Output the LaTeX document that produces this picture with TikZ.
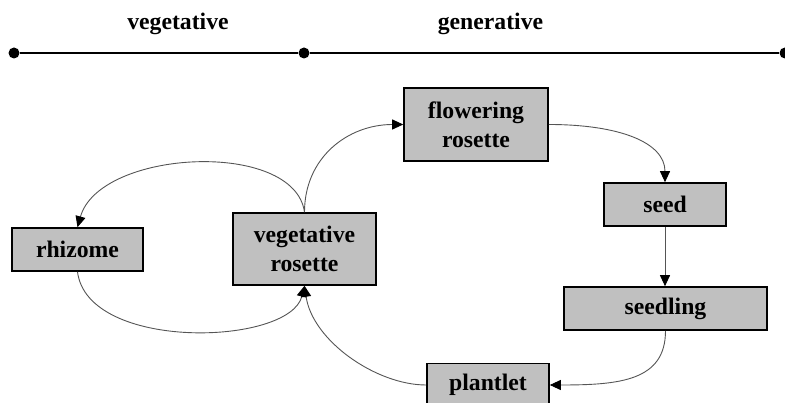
\documentclass[tikz,border=0pt]{standalone}
\usepackage{fontspec}
\setmainfont{Liberation Serif}
\usetikzlibrary{arrows.meta}
\definecolor{boxgray}{HTML}{C0C0C0}
\definecolor{linkgray}{HTML}{555555}
\begin{document}
\begin{tikzpicture}[x=1pt,y=-1pt,
  stage/.style={draw=black, line width=1.6pt, fill=boxgray, align=center,
    inner sep=0pt, font=\fontsize{23.7}{29}\selectfont\bfseries},
  phase/.style={anchor=base, font=\fontsize{23.7}{29}\selectfont\bfseries},
  link/.style={draw=linkgray, line width=0.9pt,
    -{Triangle[length=11pt,width=10pt,color=black]}},
  tick/.style={circle, fill=black, inner sep=0pt, minimum size=11pt}
]
\clip (0,0) rectangle (785,403);
\useasboundingbox (0,0) rectangle (785,403);

% time line with the two phases
\node[tick] (t0) at (14,53) {};
\node[tick] (t1) at (304,53) {};
\node[tick] (t2) at (785,53) {};
\draw[line width=1.2pt] (t0) -- (t1) -- (t2);
\node[phase] (veg) at (178,30) {vegetative};
\node[phase] (gen) at (490.5,30) {generative};

% life cycle stages
\node[stage, minimum width=144pt, minimum height=73pt] (fr) at (476,124.5) {flowering\\rosette};
\node[stage, minimum width=122pt, minimum height=43pt] (sd) at (665,204.5) {seed};
\node[stage, minimum width=203pt, minimum height=43pt] (sl) at (665.5,308.5) {seedling};
\node[stage, minimum width=122pt, minimum height=43pt] (pl) at (488,385) {plantlet};
\node[stage, minimum width=131pt, minimum height=43pt] (rz) at (77.5,249.5) {rhizome};
\node[stage, minimum width=143pt, minimum height=72pt] (vr) at (304.5,249) {vegetative\\rosette};

% transitions
\draw[link] (vr.north) .. controls +(0,-55) and +(-55,0) .. (fr.west);
\draw[link] (vr.north) .. controls +(-10,-73) and +(22,-78) .. (rz.north);
\draw[link] (rz.south) .. controls +(10,80) and +(-15,60) .. (vr.south);
\draw[link] (pl.west) .. controls +(-50,0) and +(8,55) .. (vr.south);
\draw[link] (fr.east) .. controls +(70,0) and +(0,-40) .. (sd.north);
\draw[link] (sd.south) -- (sd.south |- sl.north);
\draw[link] (sl.south) .. controls +(0,50) and +(70,0) .. (pl.east);
\end{tikzpicture}
\end{document}
